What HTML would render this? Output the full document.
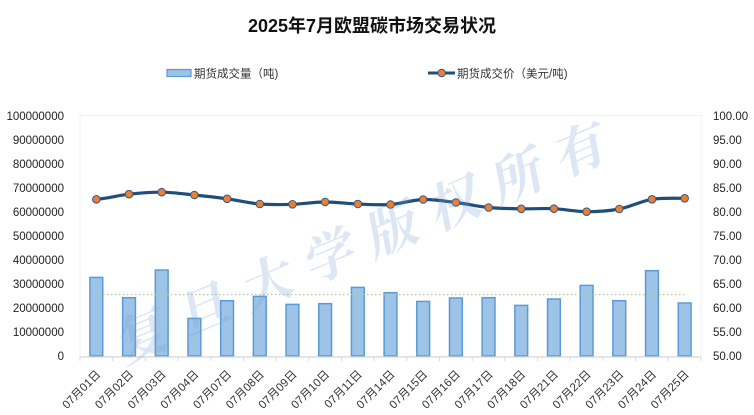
<!DOCTYPE html>
<html><head><meta charset="utf-8"><style>
html,body{margin:0;padding:0;background:#fff;}
svg{display:block;font-family:"Liberation Sans","Noto Sans CJK SC",sans-serif;}
</style></head><body>
<svg width="754" height="415" viewBox="0 0 754 415" xmlns="http://www.w3.org/2000/svg">
<rect width="754" height="415" fill="#fff"/>
<text x="372" y="32" font-size="18" font-weight="bold" text-anchor="middle" fill="#111">2025年7月欧盟碳市场交易状况</text>
<!-- legend -->
<rect x="167" y="69.5" width="24" height="7" fill="#9DC3E6" stroke="#5B9BD5" stroke-width="1.2"/>
<text x="194" y="77.5" font-size="11.5" fill="#333">期货成交量（吨)</text>
<line x1="428" y1="73" x2="455" y2="73" stroke="#1F4E79" stroke-width="3"/>
<circle cx="441.7" cy="73" r="3.8" fill="#ED7D31" stroke="#2E5C8A" stroke-width="1"/>
<text x="457" y="77.5" font-size="11.5" fill="#333">期货成交价（美元/吨)</text>
<!-- plot border -->
<rect x="80" y="115.5" width="621" height="241" fill="none" stroke="#f0f0f0" stroke-width="1"/>
<!-- left axis labels -->
<g font-size="11.5" fill="#222" text-anchor="end">
<text x="64" y="360">0</text>
<text x="64" y="336">10000000</text>
<text x="64" y="312">20000000</text>
<text x="64" y="288">30000000</text>
<text x="64" y="264">40000000</text>
<text x="64" y="240">50000000</text>
<text x="64" y="216">60000000</text>
<text x="64" y="192">70000000</text>
<text x="64" y="168">80000000</text>
<text x="64" y="144">90000000</text>
<text x="64" y="120">100000000</text>
</g>
<g font-size="11.5" fill="#222">
<text x="713" y="360">50.00</text>
<text x="713" y="336">55.00</text>
<text x="713" y="312">60.00</text>
<text x="713" y="288">65.00</text>
<text x="713" y="264">70.00</text>
<text x="713" y="240">75.00</text>
<text x="713" y="216">80.00</text>
<text x="713" y="192">85.00</text>
<text x="713" y="168">90.00</text>
<text x="713" y="144">95.00</text>
<text x="713" y="120">100.00</text>
</g>
<!-- bars -->
<g fill="#9DC3E6" stroke="#5B9BD5" stroke-width="1.5">
<rect x="89.94" y="277.4" width="12.8" height="78.6"/>
<rect x="122.63" y="297.7" width="12.8" height="58.3"/>
<rect x="155.31" y="270.0" width="12.8" height="86.0"/>
<rect x="187.99" y="318.4" width="12.8" height="37.6"/>
<rect x="220.68" y="300.7" width="12.8" height="55.3"/>
<rect x="253.36" y="296.4" width="12.8" height="59.6"/>
<rect x="286.05" y="304.4" width="12.8" height="51.6"/>
<rect x="318.73" y="303.7" width="12.8" height="52.3"/>
<rect x="351.42" y="287.4" width="12.8" height="68.6"/>
<rect x="384.10" y="292.7" width="12.8" height="63.3"/>
<rect x="416.78" y="301.4" width="12.8" height="54.6"/>
<rect x="449.47" y="298.0" width="12.8" height="58.0"/>
<rect x="482.15" y="297.7" width="12.8" height="58.3"/>
<rect x="514.84" y="305.4" width="12.8" height="50.6"/>
<rect x="547.52" y="299.0" width="12.8" height="57.0"/>
<rect x="580.21" y="285.4" width="12.8" height="70.6"/>
<rect x="612.89" y="300.7" width="12.8" height="55.3"/>
<rect x="645.57" y="270.7" width="12.8" height="85.3"/>
<rect x="678.26" y="303.0" width="12.8" height="53.0"/>
</g>
<!-- average line -->
<line x1="95" y1="294.5" x2="685" y2="294.5" stroke="#A9D18E" stroke-width="1.3" stroke-dasharray="1.5 2.5"/>
<!-- x axis -->
<line x1="80" y1="357" x2="701" y2="357" stroke="#d9d9d9" stroke-width="1.2"/>
<g stroke="#d9d9d9" stroke-width="1">
<line x1="80" y1="357" x2="80" y2="361"/>
<line x1="112.68" y1="357" x2="112.68" y2="361"/>
<line x1="145.37" y1="357" x2="145.37" y2="361"/>
<line x1="178.05" y1="357" x2="178.05" y2="361"/>
<line x1="210.74" y1="357" x2="210.74" y2="361"/>
<line x1="243.42" y1="357" x2="243.42" y2="361"/>
<line x1="276.11" y1="357" x2="276.11" y2="361"/>
<line x1="308.79" y1="357" x2="308.79" y2="361"/>
<line x1="341.47" y1="357" x2="341.47" y2="361"/>
<line x1="374.16" y1="357" x2="374.16" y2="361"/>
<line x1="406.84" y1="357" x2="406.84" y2="361"/>
<line x1="439.53" y1="357" x2="439.53" y2="361"/>
<line x1="472.21" y1="357" x2="472.21" y2="361"/>
<line x1="504.89" y1="357" x2="504.89" y2="361"/>
<line x1="537.58" y1="357" x2="537.58" y2="361"/>
<line x1="570.26" y1="357" x2="570.26" y2="361"/>
<line x1="602.95" y1="357" x2="602.95" y2="361"/>
<line x1="635.63" y1="357" x2="635.63" y2="361"/>
<line x1="668.32" y1="357" x2="668.32" y2="361"/>
<line x1="701" y1="357" x2="701" y2="361"/>
</g>
<g font-size="11.5" fill="#333" text-anchor="end">
<text transform="translate(101.3,375) rotate(-45)">07月01日</text>
<text transform="translate(134.0,375) rotate(-45)">07月02日</text>
<text transform="translate(166.7,375) rotate(-45)">07月03日</text>
<text transform="translate(199.4,375) rotate(-45)">07月04日</text>
<text transform="translate(232.1,375) rotate(-45)">07月07日</text>
<text transform="translate(264.8,375) rotate(-45)">07月08日</text>
<text transform="translate(297.5,375) rotate(-45)">07月09日</text>
<text transform="translate(330.1,375) rotate(-45)">07月10日</text>
<text transform="translate(362.8,375) rotate(-45)">07月11日</text>
<text transform="translate(395.5,375) rotate(-45)">07月14日</text>
<text transform="translate(428.2,375) rotate(-45)">07月15日</text>
<text transform="translate(460.9,375) rotate(-45)">07月16日</text>
<text transform="translate(493.6,375) rotate(-45)">07月17日</text>
<text transform="translate(526.2,375) rotate(-45)">07月18日</text>
<text transform="translate(558.9,375) rotate(-45)">07月21日</text>
<text transform="translate(591.6,375) rotate(-45)">07月22日</text>
<text transform="translate(624.3,375) rotate(-45)">07月23日</text>
<text transform="translate(657.0,375) rotate(-45)">07月24日</text>
<text transform="translate(689.7,375) rotate(-45)">07月25日</text>
</g>
<!-- price line -->
<path d="M96.34,199.3 C107.2,198.45 118.1,195.38 129.03,194.2 C139.9,193.02 150.8,192.07 161.71,192.2 C172.6,192.33 183.5,193.9 194.39,195 C205.3,196.1 216.2,197.3 227.08,198.8 C238,200.3 248.9,203.08 259.76,204 C270.7,204.92 281.6,204.63 292.45,204.3 C303.3,203.97 314.2,202.05 325.13,202 C336,201.95 346.9,203.58 357.82,204 C368.7,204.42 379.6,205.25 390.5,204.5 C401.4,203.75 412.3,199.83 423.18,199.5 C434.1,199.17 444.97,201.17 455.87,202.5 C466.8,203.83 477.7,206.45 488.55,207.5 C499.5,208.55 510.3,208.6 521.24,208.8 C532.1,209 543,208.22 553.92,208.7 C564.8,209.18 575.7,211.65 586.61,211.7 C597.5,211.75 608.4,211.07 619.29,209 C630.2,206.93 641.1,201.08 651.97,199.3 C662.9,197.52 673.8,198.47 684.66,198.3" fill="none" stroke="#1F4E79" stroke-width="3.2" stroke-linejoin="round"/>
<g fill="#ED7D31" stroke="#2E5C8A" stroke-width="1">
<circle cx="96.34" cy="199.3" r="3.8"/>
<circle cx="129.03" cy="194.2" r="3.8"/>
<circle cx="161.71" cy="192.2" r="3.8"/>
<circle cx="194.39" cy="195" r="3.8"/>
<circle cx="227.08" cy="198.8" r="3.8"/>
<circle cx="259.76" cy="204" r="3.8"/>
<circle cx="292.45" cy="204.3" r="3.8"/>
<circle cx="325.13" cy="202" r="3.8"/>
<circle cx="357.82" cy="204" r="3.8"/>
<circle cx="390.5" cy="204.5" r="3.8"/>
<circle cx="423.18" cy="199.5" r="3.8"/>
<circle cx="455.87" cy="202.5" r="3.8"/>
<circle cx="488.55" cy="207.5" r="3.8"/>
<circle cx="521.24" cy="208.8" r="3.8"/>
<circle cx="553.92" cy="208.7" r="3.8"/>
<circle cx="586.61" cy="211.7" r="3.8"/>
<circle cx="619.29" cy="209" r="3.8"/>
<circle cx="651.97" cy="199.3" r="3.8"/>
<circle cx="684.66" cy="198.3" r="3.8"/>
</g>
<!-- watermark -->
<text transform="translate(369,236) rotate(-23) skewX(-12)" font-family="'Noto Serif CJK SC','Noto Sans CJK SC',serif" font-size="52" font-weight="bold" letter-spacing="16" text-anchor="middle" dominant-baseline="central" fill="#7FA3D6" fill-opacity="0.27">复旦大学版权所有</text>
</svg>
</body></html>
